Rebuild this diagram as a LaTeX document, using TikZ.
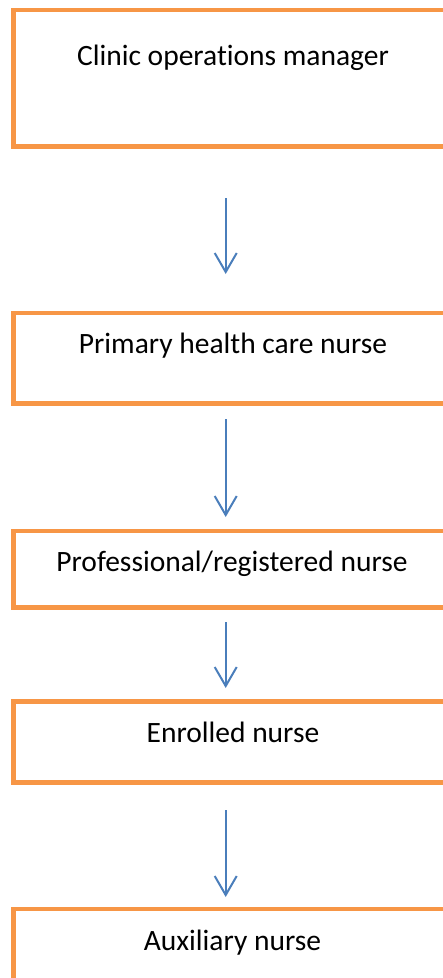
\documentclass[tikz,border=0pt]{standalone}
\usepackage{fontspec}
\setmainfont{Carlito}[Ligatures=NoCommon]
\usetikzlibrary{arrows.meta}
\definecolor{boxorange}{HTML}{F79646}
\definecolor{arrowblue}{HTML}{4A7EBB}
\tikzset{
  orgbox/.style={draw=boxorange, line width=4.5pt},
  orgtext/.style={anchor=base, inner sep=0pt, font=\fontsize{29.5}{34}\selectfont, text=black},
  orgarrow/.style={draw=arrowblue, line width=2pt, -{Straight Barb[length=19pt, width=22pt, line width=2pt]}}
}
\begin{document}
\begin{tikzpicture}[x=1pt, y=-1pt]
\useasboundingbox (0,0) rectangle (443,978);
\fill[white] (0,0) rectangle (443,978);
% boxes
\draw[orgbox] (13.3,10) rectangle (452.7,146.5) node[pos=0, inner sep=0pt] (b1) {};
\draw[orgbox] (13.3,313.2) rectangle (452.7,403.7) node[pos=0, inner sep=0pt] (b2) {};
\draw[orgbox] (13.3,530.8) rectangle (452.7,607.5) node[pos=0, inner sep=0pt] (b3) {};
\draw[orgbox] (13.3,701.5) rectangle (452.7,782.5) node[pos=0, inner sep=0pt] (b4) {};
\draw[orgbox] (13.3,909.2) rectangle (452.7,1000) node[pos=0, inner sep=0pt] (b5) {};
% texts
\node[orgtext] (t1) at (233,65.7) {Clinic operations manager};
\node[orgtext] (t2) at (233,353.3) {Primary health care nurse};
\node[orgtext] (t3) at (232,571.7) {Professional/registered nurse};
\node[orgtext] (t4) at (233,742) {Enrolled nurse};
\node[orgtext] (t5) at (232.5,950) {Auxiliary nurse};
% arrow endpoints
\coordinate (a1s) at (225.7,198);
\coordinate (a1e) at (225.7,274);
\coordinate (a2s) at (225.7,419);
\coordinate (a2e) at (225.7,517);
\coordinate (a3s) at (225.7,622);
\coordinate (a3e) at (225.7,688);
\coordinate (a4s) at (225.7,810);
\coordinate (a4e) at (225.7,897);
\draw[orgarrow] (a1s) -- (a1e);
\draw[orgarrow] (a2s) -- (a2e);
\draw[orgarrow] (a3s) -- (a3e);
\draw[orgarrow] (a4s) -- (a4e);
\end{tikzpicture}
\end{document}
